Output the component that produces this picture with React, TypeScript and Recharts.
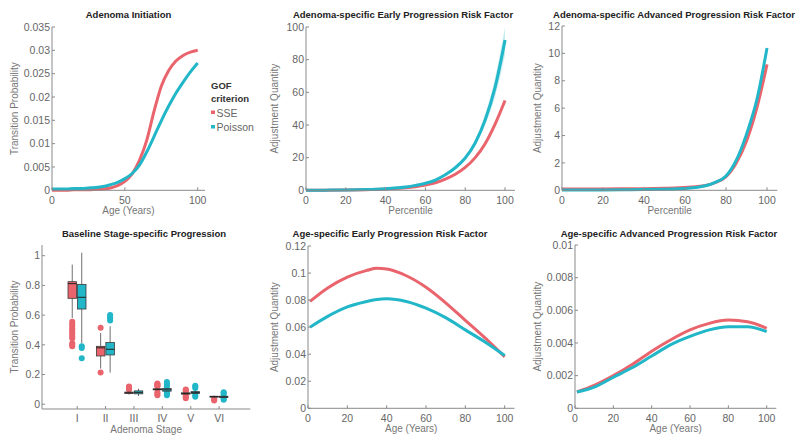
import React from "react";
import { ComposedChart, Line, Area, XAxis, YAxis, BarChart, Bar } from "recharts";

const RED = "#E9646C";
const CYAN = "#21B6C8";
const FONT = "'Liberation Sans', Arial, Helvetica, sans-serif";
const AXIS = "#8a8a8a";
const TICK = "#666";

// Adenoma initiation (age in years)
const initAges = [0, 5, 10, 15, 20, 25, 30, 35, 40, 45, 50, 55, 60, 65, 70, 75, 80, 85, 90, 95, 100];
const initSse = [0.0, 0.0, 0.0, 0.0001, 0.0001, 0.0001, 0.0002, 0.0003, 0.0005, 0.001, 0.0019, 0.0035, 0.0064, 0.0107, 0.0169, 0.0223, 0.0256, 0.0277, 0.0289, 0.0296, 0.03];
const initPoisson = [0.0003, 0.0003, 0.0003, 0.0004, 0.0004, 0.0005, 0.0006, 0.0008, 0.0012, 0.0017, 0.0025, 0.0036, 0.0054, 0.0082, 0.0115, 0.0149, 0.018, 0.0208, 0.0232, 0.0254, 0.0273];

// adenoma-specific risk factors (percentile)
const pct = [0, 10, 20, 30, 40, 50, 55, 60, 65, 70, 75, 80, 85, 90, 95, 100];
const earlySse = [0.05, 0.1, 0.2, 0.4, 0.8, 1.5, 2.2, 3.2, 4.6, 6.8, 9.8, 14, 20, 28.5, 40.5, 55];
const earlyPoisson = [0.05, 0.1, 0.2, 0.45, 1.0, 2.0, 3.0, 4.3, 6.3, 9.5, 13.8, 19.8, 29, 43, 63, 92];
const earlyPoissonLo = [0.05, 0.1, 0.2, 0.45, 1.0, 2.0, 3.0, 4.2, 6.1, 9.1, 13.2, 18.8, 27.3, 40, 57.5, 83];
const earlyPoissonHi = [0.05, 0.1, 0.2, 0.45, 1.0, 2.0, 3.0, 4.4, 6.6, 10, 14.5, 21, 31, 46.5, 69, 100];
const advSse = [0.1, 0.1, 0.1, 0.11, 0.12, 0.15, 0.17, 0.21, 0.26, 0.35, 0.58, 1.0, 2.0, 3.6, 6.0, 9.2];
const advPoisson = [0.02, 0.02, 0.03, 0.04, 0.05, 0.08, 0.1, 0.13, 0.2, 0.33, 0.6, 1.05, 2.2, 4.1, 6.6, 10.4];

// age-specific risk factors
const ageEarly = [1, 10, 20, 30, 35, 40, 50, 60, 70, 80, 90, 100];
const ageEarlySse = [0.079, 0.089, 0.097, 0.102, 0.1035, 0.103, 0.098, 0.0895, 0.078, 0.065, 0.052, 0.038];
const ageEarlyPoisson = [0.06, 0.068, 0.075, 0.079, 0.0805, 0.081, 0.079, 0.074, 0.067, 0.058, 0.049, 0.039];
const ageAdv = [1, 10, 20, 30, 40, 50, 60, 70, 80, 90, 100];
const ageAdvSse = [0.001, 0.0014, 0.002, 0.0027, 0.0035, 0.0042, 0.0048, 0.0052, 0.0054, 0.0053, 0.0049];
const ageAdvPoisson = [0.001, 0.0013, 0.0019, 0.0025, 0.0032, 0.0039, 0.0044, 0.0048, 0.005, 0.005, 0.0047];

// baseline stage-specific progression (box plots)
const stages = ["I", "II", "III", "IV", "V", "VI"];
const sseLo = [0.58, 0.24, 0.065, 0.09, 0.06, 0.045];
const sseQ1 = [0.713, 0.325, 0.072, 0.097, 0.068, 0.048];
const sseMed = [0.812, 0.38, 0.077, 0.1, 0.072, 0.051];
const sseQ3 = [0.825, 0.39, 0.082, 0.104, 0.077, 0.054];
const sseHi = [0.94, 0.48, 0.09, 0.11, 0.085, 0.058];
const sseOut = [
  [0.556, 0.54, 0.527, 0.51, 0.5, 0.485, 0.471, 0.455, 0.444, 0.41, 0.4, 0.39],
  [0.515, 0.213],
  [0.1, 0.105, 0.11, 0.115, 0.12],
  [0.06, 0.07, 0.08, 0.12, 0.125, 0.13, 0.135, 0.14],
  [0.04, 0.05, 0.055, 0.09, 0.095, 0.1],
  [0.025, 0.03, 0.035],
];
const poiLo = [0.41, 0.213, 0.055, 0.075, 0.06, 0.04];
const poiQ1 = [0.641, 0.332, 0.07, 0.088, 0.072, 0.045];
const poiMed = [0.72, 0.37, 0.08, 0.097, 0.078, 0.049];
const poiQ3 = [0.807, 0.415, 0.09, 0.106, 0.085, 0.054];
const poiHi = [1.02, 0.525, 0.105, 0.118, 0.095, 0.06];
const poiOut = [
  [0.39, 0.378, 0.31],
  [0.563, 0.578, 0.59, 0.6],
  [],
  [0.06, 0.07, 0.075, 0.12, 0.13, 0.14, 0.15],
  [0.05, 0.06, 0.11, 0.12, 0.125],
  [0.03, 0.035, 0.065, 0.075, 0.08],
];

const initRows = initAges.map((x, i) => ({ x, sse: initSse[i], poi: initPoisson[i] }));
const earlyRows = pct.map((x, i) => ({ x, sse: earlySse[i], poi: earlyPoisson[i], lo: earlyPoissonLo[i], hi: earlyPoissonHi[i] }));
const advRows = pct.map((x, i) => ({ x, sse: advSse[i], poi: advPoisson[i] }));
const ageEarlyRows = ageEarly.map((x, i) => ({ x, sse: ageEarlySse[i], poi: ageEarlyPoisson[i] }));
const ageAdvRows = ageAdv.map((x, i) => ({ x, sse: ageAdvSse[i], poi: ageAdvPoisson[i] }));
const boxRows = stages.map((stage, i) => ({
  stage,
  sse: { lo: sseLo[i], q1: sseQ1[i], med: sseMed[i], q3: sseQ3[i], hi: sseHi[i], out: sseOut[i] },
  poi: { lo: poiLo[i], q1: poiQ1[i], med: poiMed[i], q3: poiQ3[i], hi: poiHi[i], out: poiOut[i] },
}));

const YW = 60;
const XH = 34;
const MT = 6;
const MR = 6;

function frame(pl: number, pt: number, pr: number, pb: number) {
  return { left: pl - YW, top: pt - MT, width: YW + pr - pl + MR, height: MT + pb - pt + XH };
}

const tickStyle = { fontSize: 10.5, fill: TICK, fontFamily: FONT };

const yLabel = (text: string, x: number) => (p: any) => {
  const vb = p.viewBox || {};
  const cy = vb.y + vb.height / 2;
  return (
    <text x={x} y={cy} transform={`rotate(-90 ${x} ${cy})`} textAnchor="middle" dominantBaseline="central"
      fontSize={10} fill="#777" fontFamily={FONT}>{text}</text>
  );
};

const xLabel = (text: string) => (p: any) => {
  const vb = p.viewBox || {};
  return (
    <text x={vb.x + vb.width / 2} y={vb.y + 20.5} textAnchor="middle" dominantBaseline="central"
      fontSize={10} fill="#777" fontFamily={FONT}>{text}</text>
  );
};

type CurveProps = {
  box: [number, number, number, number];
  rows: any[];
  yMax: number;
  yTicks: number[];
  xTicks: number[];
  yTitle: string;
  yTitleX: number;
  xTitle: string;
  band?: boolean;
};

function CurvePanel(p: CurveProps) {
  const [pl, pt, pr, pb] = p.box;
  const f = frame(pl, pt, pr, pb);
  return (
    <div style={{ position: "absolute", left: f.left, top: f.top }}>
      <ComposedChart width={f.width} height={f.height} data={p.rows} margin={{ top: MT, right: MR, left: 0, bottom: 0 }}>
        <XAxis type="number" dataKey="x" domain={[0, 105]} ticks={p.xTicks} interval={0} height={XH}
          axisLine={{ stroke: AXIS }} tickLine={{ stroke: AXIS }} tick={tickStyle} tickSize={-3} tickMargin={9}
          label={xLabel(p.xTitle)} />
        <YAxis type="number" domain={[0, p.yMax]} ticks={p.yTicks} interval={0} width={YW}
          axisLine={{ stroke: AXIS }} tickLine={{ stroke: AXIS }} tick={tickStyle} tickSize={-3} tickMargin={5}
          label={yLabel(p.yTitle, p.yTitleX - f.left)} />
        {p.band && (
          <Area type="monotone" dataKey={(d: any) => [d.lo, d.hi]} stroke="none" fill={CYAN} fillOpacity={0.25}
            isAnimationActive={false} />
        )}
        <Line type="monotone" dataKey="sse" stroke={RED} strokeWidth={3} dot={false} isAnimationActive={false} />
        <Line type="monotone" dataKey="poi" stroke={CYAN} strokeWidth={3} dot={false} isAnimationActive={false} />
      </ComposedChart>
    </div>
  );
}

const boxShape = (key: "sse" | "poi", color: string) => (props: any) => {
  const { x, y, width, height, payload } = props;
  const s = payload[key];
  const py = (v: number) => y + height * (1 - v / s.hi);
  const cx = x + width / 2;
  return (
    <g>
      <line x1={cx} x2={cx} y1={py(s.lo)} y2={py(s.hi)} stroke="#6e6e6e" strokeWidth={1} />
      {s.out.map((v: number, i: number) => (
        <circle key={i} cx={cx} cy={py(v)} r={3} fill={color} />
      ))}
      <rect x={x} y={py(s.q3)} width={width} height={Math.max(py(s.q1) - py(s.q3), 0.5)} fill={color}
        stroke="#3a3a3a" strokeWidth={0.8} />
      <line x1={x} x2={x + width} y1={py(s.med)} y2={py(s.med)} stroke="#222" strokeWidth={1} />
    </g>
  );
};

function BoxPanel() {
  const pl = 41.7, pt = 245, pr = 250, pb = 409;
  const f = frame(pl, pt, pr, pb);
  return (
    <div style={{ position: "absolute", left: f.left, top: f.top }}>
      <BarChart width={f.width} height={f.height} data={boxRows} margin={{ top: MT, right: MR, left: 0, bottom: 0 }}
        barSize={8.5} barGap={1}>
        <XAxis type="category" dataKey="stage" padding={{ left: 21, right: 17 }} interval={0} height={XH}
          axisLine={{ stroke: AXIS }} tickLine={{ stroke: AXIS }} tick={tickStyle} tickSize={-3} tickMargin={9}
          label={xLabel("Adenoma Stage")} />
        <YAxis type="number" domain={[-0.032, 1.072]} ticks={[0, 0.2, 0.4, 0.6, 0.8, 1]} interval={0} width={YW}
          axisLine={{ stroke: AXIS }} tickLine={{ stroke: AXIS }} tick={tickStyle} tickSize={-3} tickMargin={5}
          label={yLabel("Transition Probability", 14 - f.left)} />
        <Bar dataKey={(d: any) => [0, d.sse.hi]} shape={boxShape("sse", RED)} isAnimationActive={false} />
        <Bar dataKey={(d: any) => [0, d.poi.hi]} shape={boxShape("poi", CYAN)} isAnimationActive={false} />
      </BarChart>
    </div>
  );
}

const titles = [
  { t: "Adenoma Initiation", x: 128.5, y: 17.5 },
  { t: "Adenoma-specific Early Progression Risk Factor", x: 403, y: 17.5 },
  { t: "Adenoma-specific Advanced Progression Risk Factor", x: 674, y: 17.5 },
  { t: "Baseline Stage-specific Progression", x: 144, y: 236.5 },
  { t: "Age-specific Early Progression Risk Factor", x: 390, y: 236.5 },
  { t: "Age-specific Advanced Progression Risk Factor", x: 669, y: 236.5 },
];

export default function App() {
  return (
    <div style={{ position: "absolute", left: 0, top: 0, width: 800, height: 440, background: "#fff", fontFamily: FONT }}>
      <CurvePanel box={[52, 26.7, 205, 190]} rows={initRows} yMax={0.035}
        yTicks={[0, 0.005, 0.01, 0.015, 0.02, 0.025, 0.03, 0.035]} xTicks={[0, 50, 100]}
        yTitle="Transition Probability" yTitleX={15} xTitle="Age (Years)" />
      <CurvePanel box={[306, 26.7, 515, 190]} rows={earlyRows} yMax={100}
        yTicks={[0, 20, 40, 60, 80, 100]} xTicks={[0, 20, 40, 60, 80, 100]}
        yTitle="Adjustment Quantity" yTitleX={275} xTitle="Percentile" band />
      <CurvePanel box={[561.7, 25.7, 777, 190]} rows={advRows} yMax={12}
        yTicks={[0, 2, 4, 6, 8, 10, 12]} xTicks={[0, 20, 40, 60, 80, 100]}
        yTitle="Adjustment Quantity" yTitleX={537} xTitle="Percentile" />
      <BoxPanel />
      <CurvePanel box={[308.3, 246, 514.8, 408.3]} rows={ageEarlyRows} yMax={0.12}
        yTicks={[0, 0.02, 0.04, 0.06, 0.08, 0.1, 0.12]} xTicks={[0, 20, 40, 60, 80, 100]}
        yTitle="Adjustment Quantity" yTitleX={275} xTitle="Age (Years)" />
      <CurvePanel box={[575, 245, 776.3, 408.3]} rows={ageAdvRows} yMax={0.01}
        yTicks={[0, 0.002, 0.004, 0.006, 0.008, 0.01]} xTicks={[0, 20, 40, 60, 80, 100]}
        yTitle="Adjustment Quantity" yTitleX={538} xTitle="Age (Years)" />
      <svg width={800} height={440} style={{ position: "absolute", left: 0, top: 0, pointerEvents: "none" }}>
        {titles.map((d) => (
          <text key={d.t} x={d.x} y={d.y} textAnchor="middle" fontSize={9.5} fontWeight="bold" fill="#222" fontFamily={FONT}>
            {d.t}
          </text>
        ))}
        <text x={211} y={89} fontSize={9.5} fontWeight="bold" fill="#333" fontFamily={FONT}>GOF</text>
        <text x={211} y={101.5} fontSize={9.5} fontWeight="bold" fill="#333" fontFamily={FONT}>criterion</text>
        <rect x={211} y={110.5} width={4} height={3.5} fill={RED} />
        <text x={216.5} y={112.7} dominantBaseline="central" fontSize={10.5} fill="#666" fontFamily={FONT}>SSE</text>
        <rect x={211} y={125} width={4} height={3.5} fill={CYAN} />
        <text x={216.5} y={126.7} dominantBaseline="central" fontSize={10.5} fill="#666" fontFamily={FONT}>Poisson</text>
      </svg>
    </div>
  );
}
